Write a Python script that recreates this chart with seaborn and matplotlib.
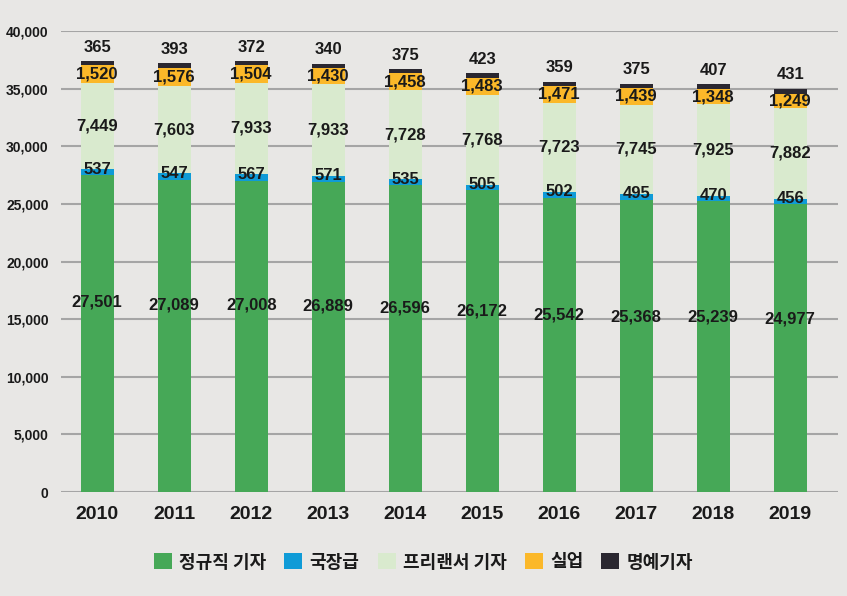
import matplotlib
matplotlib.use("Agg")
import matplotlib.pyplot as plt
import seaborn as sns
import numpy as np
import pandas as pd
from matplotlib.patches import Patch

years = ["2010", "2011", "2012", "2013", "2014", "2015", "2016", "2017", "2018", "2019"]
regular = [27501, 27089, 27008, 26889, 26596, 26172, 25542, 25368, 25239, 24977]
director = [537, 547, 567, 571, 535, 505, 502, 495, 470, 456]
freelance = [7449, 7603, 7933, 7933, 7728, 7768, 7723, 7745, 7925, 7882]
unemployed = [1520, 1576, 1504, 1430, 1458, 1483, 1471, 1439, 1348, 1249]
honorary = [365, 393, 372, 340, 375, 423, 359, 375, 407, 431]

series_names = ["정규직 기자", "국장급", "프리랜서 기자", "실업", "명예기자"]
series_vals = [regular, director, freelance, unemployed, honorary]
colors = ["#46a857", "#0f9bd7", "#d9eace", "#fbb829", "#2a2730"]

bg = "#e8e7e5"
sns.set_theme(style="white")
plt.rcParams["font.family"] = ["Liberation Sans Narrow", "Liberation Sans", "Noto Sans CJK KR", "DejaVu Sans"]

fig = plt.figure(figsize=(8.47, 5.96), dpi=100, facecolor=bg)
ax = fig.add_axes([61/847, 1 - 492/596, (838-61)/847, (492-31)/596])
ax.set_facecolor(bg)

bottoms = np.zeros(len(years))
for name, vals, col in zip(series_names, series_vals, colors):
    df = pd.DataFrame({"year": years, "value": np.array(vals) + bottoms})
    sns.barplot(data=df, x="year", y="value", color=col, width=0.43, ax=ax,
                saturation=1, linewidth=0)
    bottoms = bottoms + np.array(vals)

# later (taller) stacks are drawn behind earlier ones
for i, container in enumerate(ax.containers):
    for p in container:
        p.set_zorder(10 - i)

# labels
bottoms = np.zeros(len(years))
for si, vals in enumerate(series_vals):
    vals = np.array(vals)
    for i, v in enumerate(vals):
        if si == 0:
            y = v * 0.6
            va = "center"
        elif si == 4:
            y = bottoms[i] + v + 550
            va = "bottom"
        elif si == 1:
            y = bottoms[i] + v / 2 + 250
            va = "center"
        else:
            y = bottoms[i] + v / 2
            va = "center"
        ax.text(i, y, f"{v:,}", ha="center", va=va, fontsize=12,
                fontweight="bold", color="#1a1a1a", zorder=20)
    bottoms = bottoms + vals

ax.set_ylim(0, 40000)
ax.set_xlim(-0.47, 9.62)
ax.set_yticks(range(0, 40001, 5000))
ax.set_yticklabels([f"{t:,}" for t in range(0, 40001, 5000)], fontsize=10, fontweight="bold", color="#1a1a1a")
ax.set_xticks(range(len(years)))
ax.set_xticklabels(years, fontsize=14, fontweight="bold", color="#1a1a1a")
ax.tick_params(axis="y", length=0, pad=9)
ax.tick_params(axis="x", length=0, pad=10)
ax.set_xlabel("")
ax.set_ylabel("")
ax.yaxis.grid(True, color="#a5a5a5", linewidth=1.5, zorder=0)
ax.set_axisbelow(True)
for s in ax.spines.values():
    s.set_visible(False)

handles = [Patch(facecolor=c, edgecolor="none", label=n) for n, c in zip(series_names, colors)]
leg = fig.legend(handles=handles, loc="center", bbox_to_anchor=(0.5, 1 - 562/596), ncol=5,
                 frameon=False, handlelength=1.0, handleheight=1.0, handletextpad=0.4,
                 columnspacing=1.0, prop={"family": ["Noto Sans CJK KR"], "weight": "bold", "size": 13})
for t in leg.get_texts():
    t.set_color("#1a1a1a")

fig.savefig("out.png", dpi=100, facecolor=bg)
